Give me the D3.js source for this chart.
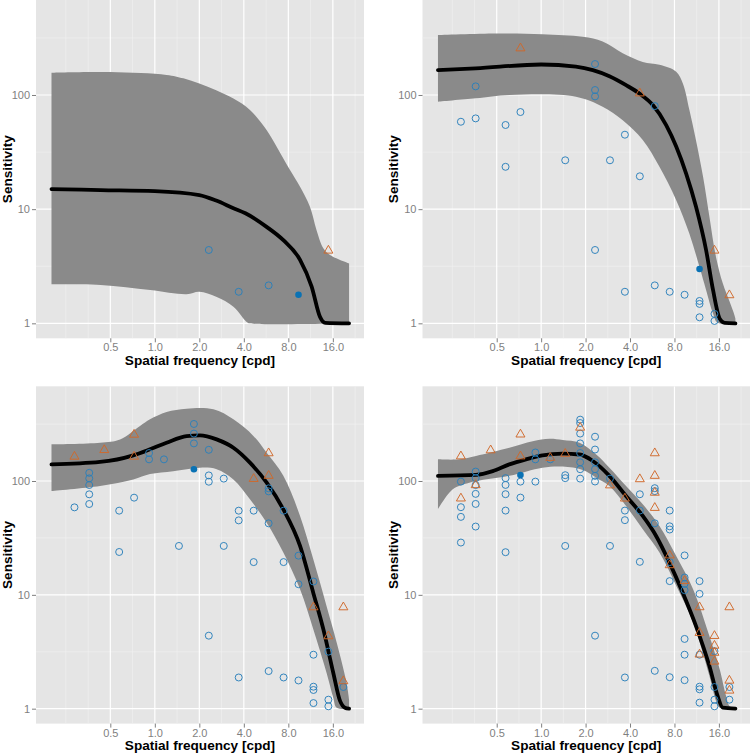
<!DOCTYPE html>
<html><head><meta charset="utf-8">
<script src="https://cdn.jsdelivr.net/npm/d3@7"></script>
<style>body{margin:0;background:#fff}svg{display:block}</style>
</head><body>
<svg id="c" width="751" height="753"></svg>
<script>
// ---- data ----
const freqs = [0.286,0.360,0.455,0.574,0.724,0.914,1.153,1.456,1.838,2.318,2.926,3.693,4.662,5.885,7.428,9.37,11.83,14.93,18.85];
const xBreaks = [0.5,1,2,4,8,16];
const xLabels = ["0.5","1.0","2.0","4.0","8.0","16.0"];
const xMinor = [0.25,0.354,0.707,1.414,2.828,5.657,11.31,22.63];
const yBreaks = [1,10,100];
const yLabels = ["1","10","100"];
const yMinor = [3.162,31.62,316.2];
const xTitle = "Spatial frequency [cpd]";
const yTitle = "Sensitivity";

// panel 1
const p1Circles = [[9,4.39],[11,1.89],[13,2.15]];
const p1Filled = [[15,1.78]];
const p1Triangles = [[17,4.45]];
const p1Mean = [[0.2,15.0],[0.43,14.7],[1.0,14.4],[2.0,13.3],[2.6,11.9],[3.4,10.2],[4.1,9.2],[5.7,7.0],[7.4,5.35],[9.6,3.6],[11.5,2.1],[13.1,1.14],[14.2,1.01],[20.6,1]];
const p1Upper = [[0.2,157],[0.5,159],[1.2,150],[1.56,140],[2.0,126],[2.6,110],[3.4,93],[4.4,74],[5.7,49.3],[6.67,35.2],[8.21,22],[9.6,15.7],[11.2,10.5],[12.4,6.58],[13.8,4.54],[15.3,3.97],[20.6,3.35]];
const p1Lower = [[0.2,2.2],[0.43,2.17],[0.93,1.96],[1.64,1.8],[2.0,1.89],[2.6,1.71],[3.4,1.4],[4.18,1.03],[4.4,1],[20.6,1]];

// panel 2
const p2Circles = [[0,58.3],[1,119],[1,62.4],[3,54.6],[3,23.5],[4,70.9],[7,26.8],[9,186.6],[9,110.5],[9,97.2],[10,26.8],[11,44.9],[12,19.4],[13,80],[9,4.39],[11,1.89],[13,2.15],[14,1.89],[15,1.78],[16,1.57],[16,1.48],[16,1.13],[17,1.21],[17,1.05]];
const p2Filled = [[16,2.99]];
const p2Triangles = [[4,263],[12,106],[17,4.45],[18,1.81]];
const p2Mean = [[0.2,165],[0.36,171],[1.0,185],[1.72,177],[2.24,165],[2.9,146],[3.76,122],[4.63,103],[5.71,81.6],[7.03,54.5],[8.22,35.4],[9.6,20.5],[11.2,10.5],[13.1,4.39],[14.6,1.96],[16.2,1.1],[17.5,1.01],[20.7,1]];
const p2Upper = [[0.2,335],[0.5,346],[1.02,340],[1.91,323],[2.61,294],[3.57,232],[4.88,195],[6.33,184],[8.22,160],[9.12,126],[10.1,74],[11.2,40],[12.5,19.2],[13.8,8.6],[15.3,3.8],[17.0,2.24],[18.9,1.55],[20.4,1.18],[20.7,1.1]];
const p2Lower = [[0.2,87.3],[0.36,93.5],[0.61,100],[1.72,96.6],[2.61,79],[3.57,60],[4.88,40.4],[6.33,23.5],[8.22,12],[10.1,6.1],[11.8,3.14],[13.1,1.96],[14.6,1.22],[15.7,1.01],[20.7,1]];

// panel 3
const p3Circles = [[0,58.7],[1,118],[1,105.5],[1,92.2],[1,76.4],[1,62.8],[3,54.9],[3,23.8],[4,71.4],[5,176],[5,155],[6,155],[7,26.9],[8,317],[8,261],[8,214],[9,188],[9,112],[9,98.6],[10,105],[10,26.9],[9,4.38],[11,54.9],[11,45.1],[11,1.88],[12,54.9],[12,19.4],[13,86.2],[13,81.1],[13,42.5],[13,2.14],[14,54.9],[14,19.4],[14,1.88],[15,22.1],[15,12.4],[15,1.77],[16,13.1],[16,2.98],[16,1.56],[16,1.46],[16,1.12],[17,3.17],[17,1.2],[17,1.05],[18,1.55]];
const p3Filled = [[8,127]];
const p3Triangles = [[0,168],[2,192],[4,262],[4,168],[12,107],[13,180],[13,114],[16,7.98],[17,4.44],[18,7.98],[18,1.79]];
const p3Mean = [[0.2,140],[0.426,147],[0.715,168],[0.928,190],[1.2,217],[1.64,248],[2.02,252],[2.62,232],[3.4,196],[4.4,145],[5.71,96.7],[7.4,56.4],[9.6,26.9],[11.8,10.4],[13.8,4.98],[16.1,2.07],[17.9,1.17],[19.3,1.02],[20.6,1]];
const p3Upper = [[0.2,210],[0.426,217],[0.582,232],[0.794,304],[0.928,348],[1.2,404],[1.64,432],[2.49,426],[3.4,348],[4.64,249],[5.71,177],[7.4,111],[9.6,49.3],[11.8,20.5],[14.5,7.98],[17.0,3.8],[19.8,1.69],[20.6,1.2]];
const p3Lower = [[0.2,81.7],[0.426,90.4],[0.715,103],[0.928,115],[1.33,122],[2.02,131],[2.62,127],[3.4,103],[4.4,69],[5.71,43],[7.4,23.5],[9.6,11.2],[11.8,4.98],[14.5,2.07],[16.1,1.25],[17.0,1.02],[20.6,1]];

// panel 4
const p4Circles = [[0,98.8],[0,58.9],[0,48.4],[0,28.8],[1,121],[1,106],[1,92.2],[1,77.1],[1,62.9],[1,39.8],[3,106],[3,92.4],[3,76.6],[3,55],[3,23.7],[4,98.8],[4,71.5],[5,178],[5,155],[5,98.8],[6,155],[7,112.5],[7,106],[7,26.9],[8,346],[8,323],[8,261],[8,214],[8,176],[8,146],[8,127],[8,105],[9,245],[9,189],[9,146],[9,127],[9,111],[9,99],[9,4.38],[10,105],[10,26.9],[11,55],[11,45.3],[11,1.88],[12,76.5],[12,55],[12,19.5],[13,86.5],[13,81.5],[13,42.5],[13,2.15],[14,55],[14,40],[14,37.5],[14,19.4],[14,13.2],[14,1.89],[15,22.2],[15,14.2],[15,12.5],[15,11.0],[15,4.1],[15,2.98],[15,1.78],[16,13.2],[16,10.2],[16,2.98],[16,1.56],[16,1.48],[16,1.13],[17,3.2],[17,1.55],[17,1.2],[17,1.05],[18,1.55],[18,1.2]];
const p4Filled = [[4,113]];
const p4Triangles = [[0,169],[0,72.1],[1,94.4],[2,191],[4,263],[4,169],[6,164],[7,178],[8,302],[10,94],[11,72],[12,106.5],[13,180],[13,114],[13,81],[13,59.6],[14,22.8],[14,18.7],[15,13.6],[16,7.99],[16,4.75],[16,3.07],[17,4.47],[17,3.67],[17,3.18],[17,2.66],[18,7.99],[18,1.81],[18,1.48]];
const p4Mean = [[0.2,111],[0.362,113],[0.47,122],[0.609,140],[0.79,155],[1.02,168],[1.40,174],[1.82,171],[2.24,150],[2.9,111],[3.76,73.8],[4.88,49.3],[6.01,32.9],[7.4,19.2],[9.12,10.4],[11.2,5.32],[13.8,2.37],[15.7,1.29],[17.0,1.02],[20.7,1]];
const p4Upper = [[0.2,155],[0.279,155],[0.362,166],[0.609,196],[0.877,224],[1.14,235],[1.40,229],[1.82,217],[2.36,171],[2.9,131],[3.76,90.4],[4.88,62.4],[6.33,40.3],[8.22,21.9],[10.7,11.2],[13.8,4.35],[16.2,2.22],[17.9,1.29],[18.9,1.05],[20.7,1]];
const p4Lower = [[0.2,56.4],[0.252,84.5],[0.326,96.7],[0.609,111],[1.02,131],[1.40,134],[1.91,125],[2.36,107],[2.9,90.4],[3.76,60.3],[4.88,37.6],[6.33,23.5],[8.22,12],[10.7,5.7],[13.8,1.94],[15.3,1.17],[16.2,1.02],[20.7,1]];

const xDomain = [Math.pow(2,-2.67), Math.pow(2,4.70)];
const yDomain = [Math.pow(10,-0.131), Math.pow(10,2.832)];

// ---- layout / styles ----
const panels = [
  {x0:36, x1:364, y0:0, y1:338.3, circles:p1Circles, filled:p1Filled, tri:p1Triangles, mean:p1Mean, upper:p1Upper, lower:p1Lower},
  {x0:422.5, x1:750, y0:0, y1:338.3, circles:p2Circles, filled:p2Filled, tri:p2Triangles, mean:p2Mean, upper:p2Upper, lower:p2Lower},
  {x0:36, x1:364, y0:386.3, y1:723.6, circles:p3Circles, filled:p3Filled, tri:p3Triangles, mean:p3Mean, upper:p3Upper, lower:p3Lower},
  {x0:422.5, x1:750, y0:386.3, y1:723.6, circles:p4Circles, filled:p4Filled, tri:p4Triangles, mean:p4Mean, upper:p4Upper, lower:p4Lower}
];
const FONT = "'Liberation Sans', Arial, Helvetica, sans-serif";
const svg = d3.select("#c");

panels.forEach((p, i) => {
  const x = d3.scaleLog().base(2).domain(xDomain).range([p.x0, p.x1]);
  const y = d3.scaleLog().domain(yDomain).range([p.y1, p.y0]);
  const g = svg.append("g");
  const cid = "clip" + i;
  svg.append("clipPath").attr("id", cid).append("rect")
    .attr("x", p.x0).attr("y", p.y0).attr("width", p.x1 - p.x0).attr("height", p.y1 - p.y0);

  g.append("rect").attr("x", p.x0).attr("y", p.y0).attr("width", p.x1 - p.x0).attr("height", p.y1 - p.y0).attr("fill", "#e5e5e5");

  const grid = g.append("g").attr("clip-path", `url(#${cid})`);
  grid.selectAll(".xm").data(xMinor).enter().append("line")
    .attr("x1", d => x(d)).attr("x2", d => x(d)).attr("y1", p.y0).attr("y2", p.y1)
    .attr("stroke", "#f2f2f2").attr("stroke-width", 0.6);
  grid.selectAll(".ym").data(yMinor).enter().append("line")
    .attr("y1", d => y(d)).attr("y2", d => y(d)).attr("x1", p.x0).attr("x2", p.x1)
    .attr("stroke", "#f2f2f2").attr("stroke-width", 0.6);
  grid.selectAll(".xM").data(xBreaks).enter().append("line")
    .attr("x1", d => x(d)).attr("x2", d => x(d)).attr("y1", p.y0).attr("y2", p.y1)
    .attr("stroke", "#ffffff").attr("stroke-width", 1.2);
  grid.selectAll(".yM").data(yBreaks).enter().append("line")
    .attr("y1", d => y(d)).attr("y2", d => y(d)).attr("x1", p.x0).attr("x2", p.x1)
    .attr("stroke", "#ffffff").attr("stroke-width", 1.2);

  // ribbon
  const lineGen = d3.line().x(d => x(d[0])).y(d => y(d[1])).curve(d3.curveCatmullRom.alpha(0.5));
  const up = lineGen(p.upper);
  const lo = lineGen(p.lower.slice().reverse());
  const plot = g.append("g").attr("clip-path", `url(#${cid})`);
  plot.append("path").attr("d", up + "L" + lo.slice(1) + "Z").attr("fill", "#8a8a8a").attr("stroke", "none");
  plot.append("path").attr("d", d3.line().x(d => x(d[0])).y(d => y(d[1])).curve(d3.curveMonotoneX)(p.mean))
    .attr("fill", "none").attr("stroke", "#000").attr("stroke-width", 3.8).attr("stroke-linecap", "round").attr("stroke-linejoin", "round");

  // points
  plot.selectAll(".c").data(p.circles).enter().append("circle")
    .attr("cx", d => x(freqs[d[0]])).attr("cy", d => y(d[1])).attr("r", 3.5)
    .attr("fill", "none").attr("stroke", "#2a7fba").attr("stroke-width", 0.95);
  plot.selectAll(".t").data(p.tri).enter().append("path")
    .attr("transform", d => `translate(${x(freqs[d[0]])},${y(d[1])})`)
    .attr("d", "M0,-4L4.5,3.8L-4.5,3.8Z")
    .attr("fill", "none").attr("stroke", "#d0682a").attr("stroke-width", 0.95);
  plot.selectAll(".f").data(p.filled).enter().append("circle")
    .attr("cx", d => x(freqs[d[0]])).attr("cy", d => y(d[1])).attr("r", 3.3)
    .attr("fill", "#0a72b4");

  // axes
  const xAxis = g.append("g").attr("transform", `translate(0,${p.y1})`)
    .call(d3.axisBottom(x).tickValues(xBreaks).tickFormat((d, j) => xLabels[j]).tickSizeOuter(0).tickSizeInner(4));
  const yAxis = g.append("g").attr("transform", `translate(${p.x0},0)`)
    .call(d3.axisLeft(y).tickValues(yBreaks).tickFormat((d, j) => yLabels[j]).tickSizeOuter(0).tickSizeInner(4).tickPadding(2));
  [xAxis, yAxis].forEach(a => {
    a.select(".domain").remove();
    a.selectAll(".tick line").attr("stroke", "#7f7f7f").attr("stroke-width", 1);
    a.selectAll(".tick text").attr("fill", "#7f7f7f").style("font-family", FONT).style("font-size", "11px");
  });
  xAxis.selectAll(".tick text").attr("y", 13).attr("dy", null);

  g.append("text").attr("x", (p.x0 + p.x1) / 2).attr("y", p.y1 + 26.8).attr("text-anchor", "middle")
    .style("font-family", FONT).style("font-size", "13.6px").style("font-weight", "bold")
    .text(xTitle);
  g.append("text").attr("transform", `translate(${p.x0 - 29},${(p.y0 + p.y1) / 2}) rotate(-90)`)
    .attr("text-anchor", "middle").attr("dominant-baseline", "central")
    .style("font-family", FONT).style("font-size", "13.6px").style("font-weight", "bold")
    .text(yTitle);
});
</script>
</body></html>
